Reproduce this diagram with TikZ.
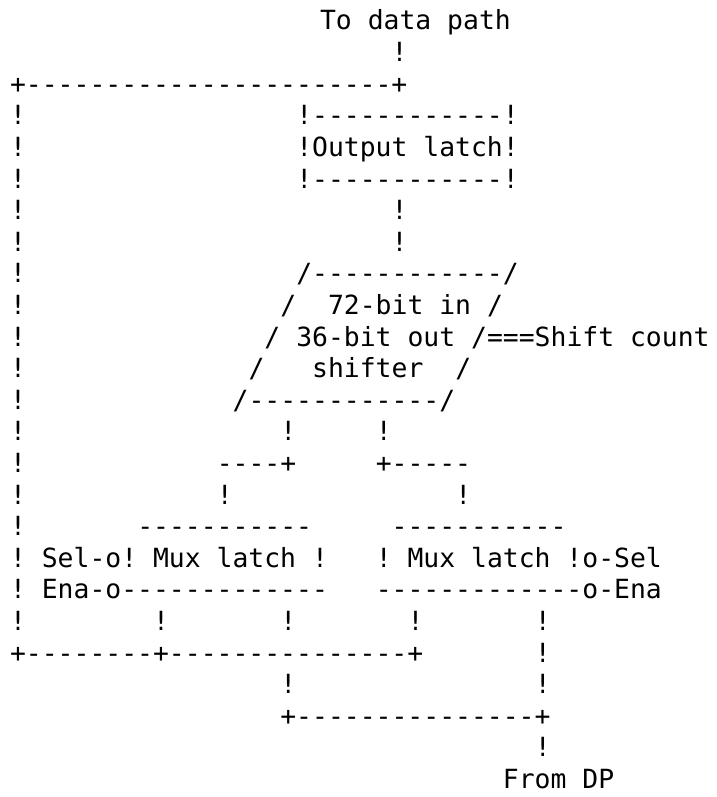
\documentclass[tikz,border=0pt]{standalone}
\usepackage{fontspec}
\setmonofont{DejaVu Sans Mono}
\tikzset{
  txt/.style={anchor=base west, inner sep=0pt, outer sep=0pt,
    font=\ttfamily\fontsize{26.4}{30}\selectfont}
}
% \seg{name}{column}{row}{text}
\newcommand\seg[4]{\node[txt] (#1) at ({10.05+15.9*#2},{-30-31.6*(#3-1)}) {#4};}
\begin{document}
\begin{tikzpicture}[x=1pt,y=1pt]
\useasboundingbox (0,0) rectangle (716,-797);
% row 1-2
\seg{title}{19.5}{1}{To data path}
\seg{r2}{24}{2}{!}
% row 3
\seg{topbus}{0}{3}{+-----------------------+}
% left vertical bus
\foreach \r in {4,...,20} {\seg{l\r}{0}{\r}{!}}
% output latch
\seg{olt}{18}{4}{!------------!}
\seg{ol}{18}{5}{!Output latch!}
\seg{olb}{18}{6}{!------------!}
\seg{r7}{24}{7}{!}
\seg{r8}{24}{8}{!}
% shifter
\seg{sht}{18}{9}{/------------/}
\seg{s10a}{17}{10}{/}
\seg{s10b}{20}{10}{72-bit in}
\seg{s10c}{30}{10}{/}
\seg{s11a}{16}{11}{/}
\seg{s11b}{18}{11}{36-bit out}
\seg{s11c}{29}{11}{/===Shift count}
\seg{s12a}{15}{12}{/}
\seg{s12b}{19}{12}{shifter}
\seg{s12c}{28}{12}{/}
\seg{shb}{14}{13}{/------------/}
% split
\seg{r14a}{17}{14}{!}
\seg{r14b}{23}{14}{!}
\seg{r15a}{13}{15}{----+}
\seg{r15b}{23}{15}{+-----}
\seg{r16a}{13}{16}{!}
\seg{r16b}{28}{16}{!}
% mux latches
\seg{m1t}{8}{17}{-----------}
\seg{m2t}{24}{17}{-----------}
\seg{m1}{2}{18}{Sel-o! Mux latch !}
\seg{m2}{23}{18}{! Mux latch !o-Sel}
\seg{m1b}{2}{19}{Ena-o-------------}
\seg{m2b}{23}{19}{-------------o-Ena}
% outputs
\seg{r20a}{9}{20}{!}
\seg{r20b}{17}{20}{!}
\seg{r20c}{25}{20}{!}
\seg{r20d}{33}{20}{!}
\seg{botbus}{0}{21}{+--------+---------------+}
\seg{r21d}{33}{21}{!}
\seg{r22a}{17}{22}{!}
\seg{r22d}{33}{22}{!}
\seg{dpbus}{17}{23}{+---------------+}
\seg{r24}{33}{24}{!}
\seg{dp}{31}{25}{From DP}
\end{tikzpicture}
\end{document}
